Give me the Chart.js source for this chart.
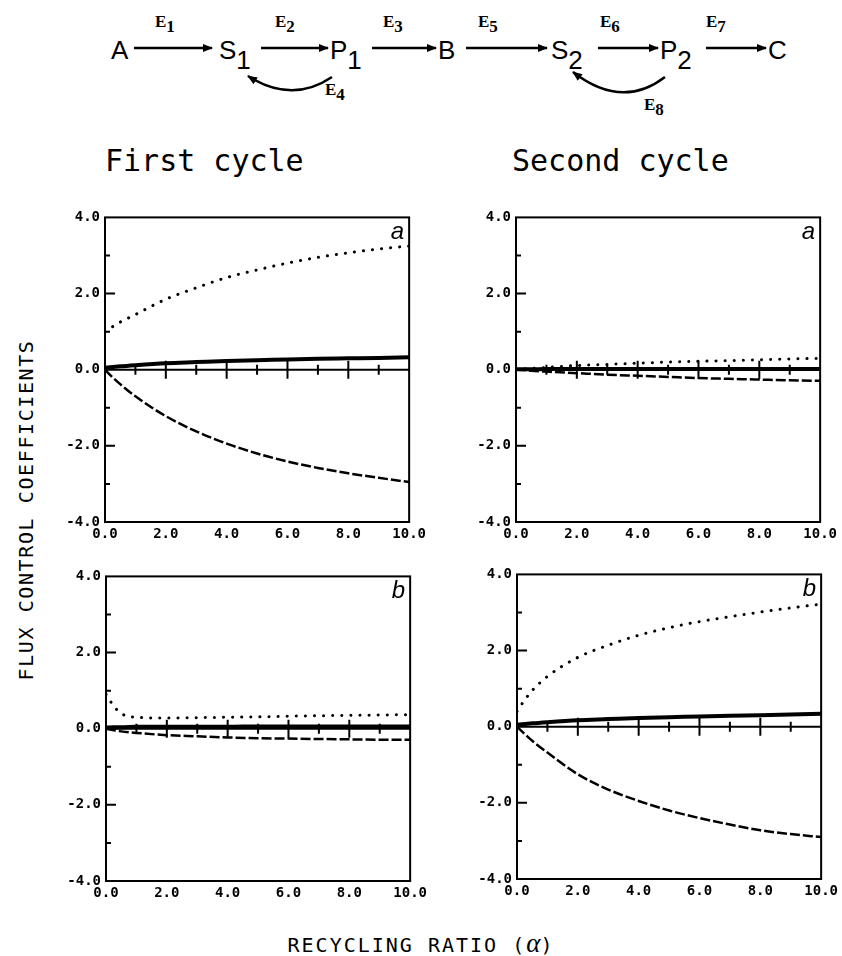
<!DOCTYPE html>
<html>
<head>
<meta charset="utf-8">
<script src="https://cdn.jsdelivr.net/npm/chart.js@4.4.0/dist/chart.umd.min.js"></script>
<style>
  html, body { margin: 0; padding: 0; background: #fff; }
  body { width: 842px; height: 956px; position: relative; overflow: hidden; font-family: "DejaVu Sans Mono", monospace; color: #000; }
  canvas { position: absolute; }
  .title { position: absolute; font-size: 30px; line-height: 1; white-space: nowrap; }
  .ytitle { position: absolute; left: 26px; top: 510px; font-size: 20px; letter-spacing: 1.6px; white-space: nowrap;
            transform: translate(-50%, -50%) rotate(-90deg); }
  .xtitle { position: absolute; left: 421px; top: 928px; font-size: 20px; letter-spacing: 2px; white-space: nowrap;
            transform: translateX(-50%); }
  .xtitle i { font-family: "Liberation Serif", serif; font-size: 27px; letter-spacing: 0; }
  svg { position: absolute; left: 0; top: 0; }
</style>
</head>
<body>

<svg width="842" height="130" viewBox="0 0 842 130">
  <defs>
    <marker id="head" viewBox="0 0 10 8" refX="9" refY="4" markerWidth="11" markerHeight="8" markerUnits="userSpaceOnUse" orient="auto">
      <path d="M0,0 L10,4 L0,8 z" fill="#000"/>
    </marker>
  </defs>
  <g font-family="Liberation Sans, sans-serif" font-size="26" fill="#000">
    <text x="111" y="59">A</text>
    <text x="219" y="59">S<tspan dy="10">1</tspan></text>
    <text x="330" y="59">P<tspan dy="10">1</tspan></text>
    <text x="438" y="59">B</text>
    <text x="551" y="59">S<tspan dy="10">2</tspan></text>
    <text x="660" y="59">P<tspan dy="10">2</tspan></text>
    <text x="768" y="59">C</text>
  </g>
  <g font-family="Liberation Serif, serif" font-weight="bold" font-size="17" fill="#000">
    <text x="155" y="27">E<tspan dy="5">1</tspan></text>
    <text x="275" y="27">E<tspan dy="5">2</tspan></text>
    <text x="383" y="27">E<tspan dy="5">3</tspan></text>
    <text x="478" y="27">E<tspan dy="5">5</tspan></text>
    <text x="600" y="27">E<tspan dy="5">6</tspan></text>
    <text x="706" y="27">E<tspan dy="5">7</tspan></text>
    <text x="325" y="95">E<tspan dy="5">4</tspan></text>
    <text x="644" y="110">E<tspan dy="5">8</tspan></text>
  </g>
  <g stroke="#000" stroke-width="2.5" fill="none" marker-end="url(#head)">
    <line x1="134" y1="48" x2="212" y2="48"/>
    <line x1="261" y1="48" x2="328" y2="48"/>
    <line x1="372" y1="48" x2="436" y2="48"/>
    <line x1="466" y1="48" x2="547" y2="48"/>
    <line x1="598" y1="48" x2="658" y2="48"/>
    <line x1="706" y1="48" x2="766" y2="48"/>
    <path d="M332,77 Q292,104 248,76"/>
    <path d="M665,77 Q622,110 573,72"/>
  </g>
</svg>

<div class="title" style="left:105px; top:146px;">First cycle</div>
<div class="title" style="left:512px; top:146px;">Second cycle</div>
<div class="ytitle">FLUX CONTROL COEFFICIENTS</div>
<div class="xtitle">RECYCLING RATIO (<i>α</i>)</div>

<canvas id="firstA" width="395" height="346" style="left:35px; top:204px;"></canvas>
<canvas id="secondA" width="395" height="346" style="left:446px; top:204px;"></canvas>
<canvas id="firstB" width="395" height="346" style="left:36px; top:563px;"></canvas>
<canvas id="secondB" width="395" height="346" style="left:447px; top:561px;"></canvas>

<script>
// recycling ratio (alpha)
const ratio = [0, 0.25, 0.5, 1, 2, 3, 4, 5, 6, 7, 8, 9, 10];

// first cycle, panel a
const firstA_dotted = [1.0, 1.13, 1.25, 1.45, 1.85, 2.15, 2.42, 2.62, 2.8, 2.95, 3.07, 3.17, 3.25];
const firstA_dashed = [0, -0.2, -0.38, -0.7, -1.22, -1.62, -1.94, -2.2, -2.41, -2.58, -2.72, -2.84, -2.95];
const firstA_solid  = [0.05, 0.07, 0.09, 0.12, 0.17, 0.2, 0.23, 0.25, 0.27, 0.29, 0.3, 0.31, 0.33];

// second cycle, panel a
const secondA_dotted = [0, 0.02, 0.03, 0.06, 0.11, 0.14, 0.17, 0.2, 0.22, 0.24, 0.26, 0.28, 0.3];
const secondA_dashed = [0, -0.01, -0.03, -0.05, -0.09, -0.13, -0.16, -0.19, -0.22, -0.24, -0.26, -0.28, -0.29];
const secondA_solid  = [0.01, 0.01, 0.01, 0.02, 0.02, 0.02, 0.02, 0.02, 0.02, 0.02, 0.02, 0.02, 0.02];

// first cycle, panel b
const firstB_dotted = [0.9, 0.6, 0.4, 0.3, 0.28, 0.29, 0.3, 0.31, 0.33, 0.34, 0.35, 0.36, 0.37];
const firstB_dashed = [0, -0.04, -0.07, -0.11, -0.17, -0.2, -0.23, -0.25, -0.26, -0.27, -0.28, -0.29, -0.29];
const firstB_solid  = [0.03, 0.04, 0.04, 0.05, 0.05, 0.05, 0.05, 0.06, 0.06, 0.06, 0.06, 0.06, 0.06];

// second cycle, panel b
const secondB_dotted = [0.4, 0.7, 0.95, 1.32, 1.82, 2.14, 2.4, 2.6, 2.76, 2.89, 3.01, 3.12, 3.22];
const secondB_dashed = [0, -0.19, -0.37, -0.68, -1.25, -1.65, -1.95, -2.2, -2.4, -2.57, -2.72, -2.82, -2.9];
const secondB_solid  = [0.05, 0.07, 0.09, 0.12, 0.17, 0.2, 0.23, 0.25, 0.27, 0.29, 0.3, 0.32, 0.34];

const xTicks = [0, 2, 4, 6, 8, 10];
const yTicks = [-4, -2, 0, 2, 4];

const tickFont = { family: '"DejaVu Sans Mono", monospace', size: 14, weight: 'bold' };

// box, zero line with its ticks, inner ticks on the left axis, panel letter
const framePlugin = {
  id: 'frame',
  beforeDatasetsDraw(chart, args, opts) {
    const { ctx, chartArea: a, scales: { x, y } } = chart;
    ctx.save();
    ctx.strokeStyle = '#000';
    ctx.lineWidth = 2;
    ctx.strokeRect(a.left, a.top, a.width, a.height);
    const y0 = y.getPixelForValue(0);
    ctx.beginPath();
    ctx.moveTo(a.left, y0);
    ctx.lineTo(a.right, y0);
    for (let v = x.min + 1; v < x.max; v++) {
      const px = x.getPixelForValue(v);
      const len = v % 2 === 0 ? 9 : 5;
      ctx.moveTo(px, y0 - len);
      ctx.lineTo(px, y0 + len);
    }
    for (let v = y.min + 1; v < y.max; v++) {
      if (v === 0) continue;
      const py = y.getPixelForValue(v);
      const len = v % 2 === 0 ? 10 : 5;
      ctx.moveTo(a.left, py);
      ctx.lineTo(a.left + len, py);
    }
    ctx.stroke();
    ctx.fillStyle = '#000';
    ctx.font = 'italic 24px "Liberation Sans", sans-serif';
    ctx.textAlign = 'right';
    ctx.textBaseline = 'alphabetic';
    ctx.fillText(opts.letter, a.right - 5, a.top + 22);
    ctx.restore();
  }
};

function series(values) {
  return ratio.map((r, i) => ({ x: r, y: values[i] }));
}

function makePanel(id, letter, dotted, dashed, solid) {
  new Chart(document.getElementById(id), {
    type: 'line',
    data: {
      datasets: [
        { data: series(dotted), borderColor: '#000', borderWidth: 3, borderDash: [0.1, 9], borderCapStyle: 'round' },
        { data: series(dashed), borderColor: '#000', borderWidth: 2.5, borderDash: [10, 3] },
        { data: series(solid),  borderColor: '#000', borderWidth: 4 }
      ]
    },
    options: {
      responsive: false,
      animation: false,
      layout: { padding: { top: 12, right: 18, left: 0, bottom: 0 } },
      elements: { point: { radius: 0 }, line: { cubicInterpolationMode: 'monotone', fill: false } },
      plugins: { legend: { display: false }, tooltip: { enabled: false }, frame: { letter } },
      scales: {
        x: {
          type: 'linear', min: 0, max: 10,
          afterFit: s => { s.height = 28; },
          afterBuildTicks: s => { s.ticks = xTicks.map(v => ({ value: v })); },
          grid: { display: false, drawTicks: false },
          border: { display: false },
          ticks: { padding: 4, maxRotation: 0, autoSkip: false, color: '#000', font: tickFont, callback: v => v.toFixed(1) }
        },
        y: {
          type: 'linear', min: -4, max: 4,
          afterFit: s => { s.width = 70; },
          afterBuildTicks: s => { s.ticks = yTicks.map(v => ({ value: v })); },
          grid: { display: false, drawTicks: false },
          border: { display: false },
          ticks: { padding: 5, color: '#000', font: tickFont, callback: v => v.toFixed(1) }
        }
      }
    },
    plugins: [framePlugin]
  });
}

makePanel('firstA', 'a', firstA_dotted, firstA_dashed, firstA_solid);
makePanel('secondA', 'a', secondA_dotted, secondA_dashed, secondA_solid);
makePanel('firstB', 'b', firstB_dotted, firstB_dashed, firstB_solid);
makePanel('secondB', 'b', secondB_dotted, secondB_dashed, secondB_solid);
</script>
</body>
</html>
